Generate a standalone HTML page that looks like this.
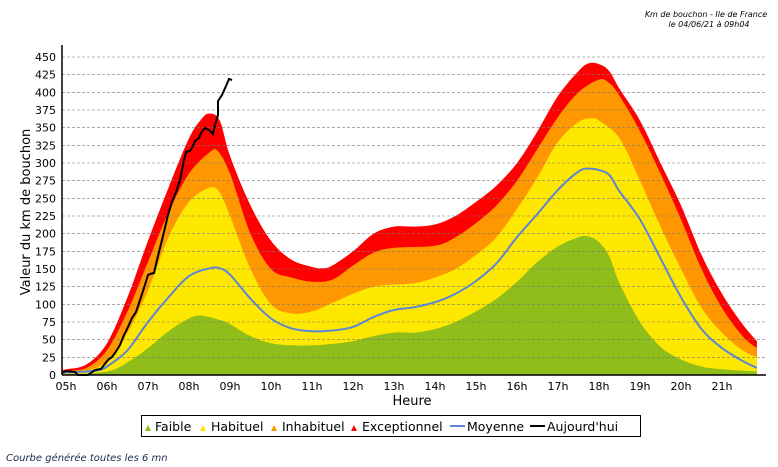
<!DOCTYPE html>
<html><head><meta charset="utf-8"><style>
body{margin:0;background:#fff;width:778px;height:463px;overflow:hidden;font-family:"DejaVu Sans","Liberation Sans",sans-serif}
</style></head><body>
<svg id="s" width="778" height="463" xmlns="http://www.w3.org/2000/svg" font-family="DejaVu Sans, Liberation Sans, sans-serif">
<g id="bands"></g>
<g id="grid"></g>
<g id="lines"></g>
<line x1="62" y1="45" x2="62" y2="375" stroke="#000" stroke-width="1.5"/>
<line x1="62" y1="375" x2="766" y2="375" stroke="#000" stroke-width="1.5"/>
<g id="labels" font-size="11" fill="#000"></g>
<text x="706" y="17" font-size="8" font-style="italic" text-anchor="middle">Km de bouchon - Ile de France</text>
<text x="709" y="27" font-size="8" font-style="italic" text-anchor="middle">le 04/06/21 à 09h04</text>
<text x="412" y="405" font-size="13" text-anchor="middle">Heure</text>
<text transform="translate(30,212) rotate(-90)" font-size="13" text-anchor="middle">Valeur du  km de bouchon</text>
<rect x="141.5" y="415.5" width="499" height="21" fill="#fff" stroke="#000"/>
<g font-size="12.5">
<path d="M145 431 l3 -6 l3 6z" fill="#8fbe1a"/><text x="155" y="431">Faible</text>
<path d="M200 431 l3 -6 l3 6z" fill="#ffe800"/><text x="211" y="431">Habituel</text>
<path d="M271 431 l3 -6 l3 6z" fill="#ff9800"/><text x="282" y="431">Inhabituel</text>
<path d="M351 431 l3 -6 l3 6z" fill="#ff0000"/><text x="362" y="431">Exceptionnel</text>
<line x1="450" y1="426" x2="465" y2="426" stroke="#5b86d6" stroke-width="2"/><text x="467" y="431">Moyenne</text>
<line x1="530" y1="426" x2="545" y2="426" stroke="#000" stroke-width="2"/><text x="547" y="431">Aujourd'hui</text>
</g>
<text x="6" y="461" font-size="10" font-style="italic" fill="#1a2a50">Courbe générée toutes les 6 mn</text>
</svg>
<script>
const X=h=>66+41*(h-5), Y=v=>375-v*0.7067;
function smooth(a){
  const p=a.map(q=>[X(q[0]),Y(q[1])]);
  let d='M'+p[0][0].toFixed(1)+','+p[0][1].toFixed(1);
  for(let i=0;i<p.length-1;i++){
    const p0=p[Math.max(0,i-1)],p1=p[i],p2=p[i+1],p3=p[Math.min(p.length-1,i+2)];
    const c1=[p1[0]+(p2[0]-p0[0])/6,p1[1]+(p2[1]-p0[1])/6];
    const c2=[p2[0]-(p3[0]-p1[0])/6,p2[1]-(p3[1]-p1[1])/6];
    d+=' C'+c1.map(v=>v.toFixed(1)).join(',')+' '+c2.map(v=>v.toFixed(1)).join(',')+' '+p2[0].toFixed(1)+','+p2[1].toFixed(1);
  }
  return d;
}
const red=[[4.9,8],[5,8],[5.5,15],[6,45],[6.5,110],[7,190],[7.5,265],[8,335],[8.3,362],[8.5,370],[8.75,360],[9,310],[9.5,240],[10,190],[10.5,163],[11,153],[11.25,151],[11.5,155],[12,175],[12.5,200],[13,210],[13.5,210],[14,213],[14.5,225],[15,245],[15.5,268],[16,300],[16.5,345],[17,395],[17.5,430],[17.75,441],[18,440],[18.25,430],[18.5,405],[19,360],[19.5,300],[20,240],[20.5,170],[21,115],[21.5,72],[21.85,48]];
const org=[[4.9,6],[5,6],[5.5,10],[6,35],[6.5,90],[7,160],[7.5,230],[8,285],[8.5,315],[8.7,317],[9,285],[9.5,200],[10,150],[10.5,138],[11,132],[11.5,135],[12,155],[12.5,173],[13,180],[14,183],[14.5,195],[15,215],[15.5,240],[16,275],[16.5,320],[17,365],[17.5,400],[18,418],[18.25,413],[18.5,395],[19,345],[19.5,285],[20,220],[20.5,150],[21,95],[21.5,55],[21.85,38]];
const yel=[[4.9,4],[5,4],[5.5,6],[6,20],[6.5,60],[7,120],[7.5,195],[8,245],[8.5,265],[8.75,258],[9,225],[9.5,150],[10,100],[10.5,87],[11,90],[11.5,102],[12,115],[12.5,125],[13,128],[13.5,130],[14,138],[14.5,150],[15,170],[15.5,195],[16,235],[16.5,280],[17,330],[17.5,358],[17.8,363],[18,360],[18.5,335],[19,275],[19.5,210],[20,150],[20.5,95],[21,60],[21.5,35],[21.85,25]];
const grn=[[4.9,1],[5,1],[6,5],[6.5,18],[7,38],[7.5,62],[8,80],[8.3,84],[8.75,78],[9,72],[9.5,55],[10,45],[10.5,42],[11,42],[11.5,44],[12,48],[12.5,55],[13,60],[13.5,60],[14,65],[14.5,75],[15,90],[15.5,108],[16,132],[16.5,160],[17,182],[17.5,195],[17.75,196],[18,188],[18.25,168],[18.5,130],[19,75],[19.5,40],[20,22],[20.5,12],[21,8],[21.85,5]];
const blue=[[4.9,3],[5.5,5],[5.8,7],[6,12],[6.5,35],[7,75],[7.5,110],[8,140],[8.5,151],[8.75,151],[9,142],[9.5,108],[10,80],[10.5,66],[11,62],[11.5,63],[12,68],[12.5,82],[13,92],[13.5,96],[14,103],[14.5,115],[15,133],[15.5,158],[16,195],[16.5,228],[17,262],[17.5,288],[17.75,292],[18,290],[18.25,283],[18.5,260],[19,220],[19.5,165],[20,110],[20.5,65],[21,38],[21.5,20],[21.85,10]];
const blk="62,373 66,371 75,372 78,375 88,375 95,370 101,369 104,365 108,360 112,357 115,353 120,345 124,335 128,327 132,318 136,312 140,300 144,288 148,275 150,274 154,273 158,256 163,236 168,215 172,202 176,192 180,180 184,160 186,152 190,151 192,148 195,141 199,138 201,133 205,128 209,130 213,134 215,125 218,115 218,101 222,95 226,86 229,79 232,80";
const NS="http://www.w3.org/2000/svg";
function el(p,t,a){const e=document.createElementNS(NS,t);for(const k in a)e.setAttribute(k,a[k]);document.getElementById(p).appendChild(e);}
const base=' L'+X(21.85).toFixed(1)+',375 L'+X(4.9).toFixed(1)+',375 Z';
[[red,'#ff0000'],[org,'#ff9800'],[yel,'#ffe800'],[grn,'#8fbe1a']].forEach(([d,c])=>el('bands','path',{d:smooth(d)+base,fill:c}));
for(let v=25;v<=450;v+=25){el('grid','line',{x1:62,x2:766,y1:Y(v).toFixed(1),y2:Y(v).toFixed(1),stroke:'#777','stroke-dasharray':'3,2','stroke-width':0.6});}
el('lines','path',{d:smooth(blue),fill:'none',stroke:'#5b86d6','stroke-width':2});
el('lines','polyline',{points:blk,fill:'none',stroke:'#000','stroke-width':2});
const L=document.getElementById('labels');
for(let v=0;v<=450;v+=25){const t=document.createElementNS(NS,'text');t.setAttribute('x',56);t.setAttribute('y',(Y(v)+4).toFixed(1));t.setAttribute('text-anchor','end');t.textContent=v;L.appendChild(t);}
for(let h=5;h<=21;h++){const t=document.createElementNS(NS,'text');t.setAttribute('x',X(h));t.setAttribute('y',390);t.setAttribute('text-anchor','middle');t.textContent=(h<10?'0':'')+h+'h';L.appendChild(t);}
</script>
</body></html>
